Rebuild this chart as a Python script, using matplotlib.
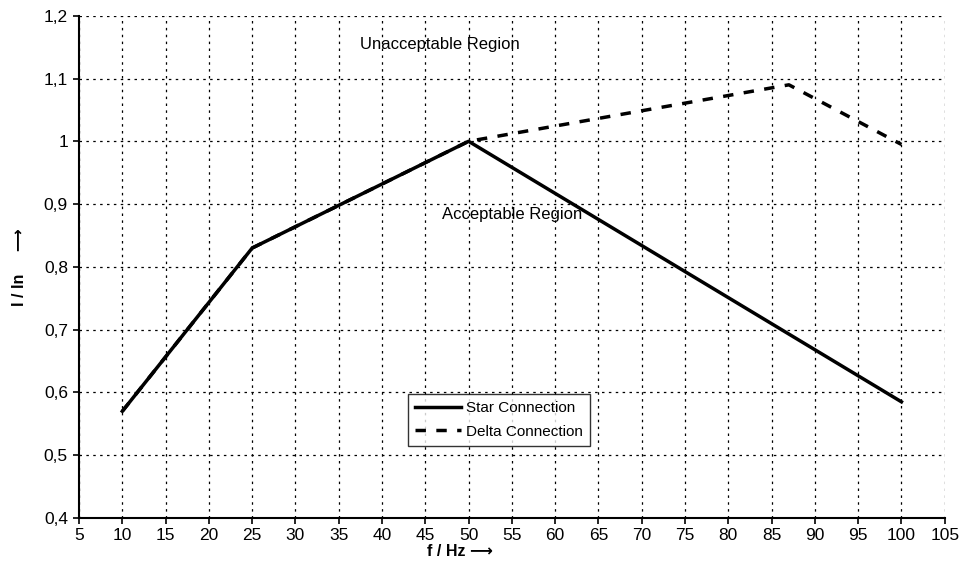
import matplotlib
matplotlib.use("Agg")
import matplotlib.pyplot as plt
from matplotlib.ticker import FuncFormatter

# data
star_f = [10, 25, 50, 100]
star_i = [0.57, 0.83, 1.0, 0.585]
delta_f = [10, 25, 50, 87, 100]
delta_i = [0.57, 0.83, 1.0, 1.09, 0.995]

x_ticks = list(range(5, 106, 5))
y_ticks = [0.4, 0.5, 0.6, 0.7, 0.8, 0.9, 1.0, 1.1, 1.2]

plt.rcParams["font.family"] = ["Liberation Sans", "DejaVu Sans"]

fig = plt.figure(figsize=(9.64, 5.63), dpi=100)
ax = fig.add_axes([0.082, 0.080, 0.898, 0.892])

ax.plot(delta_f, delta_i, color="black", lw=2.5, linestyle=(0, (3, 3)), label="Delta Connection", zorder=3)
ax.plot(star_f, star_i, color="black", lw=2.5, label="Star Connection", zorder=4)

ax.set_xlim(5, 105)
ax.set_ylim(0.4, 1.2)
ax.set_xticks(x_ticks)
ax.set_yticks(y_ticks)
ax.yaxis.set_major_formatter(FuncFormatter(lambda v, p: f"{v:g}".replace(".", ",")))
ax.tick_params(labelsize=12.5, width=1.2)
ax.tick_params(axis="y", direction="out", length=4, pad=4)
ax.tick_params(axis="x", direction="out", length=4, pad=3)

ax.grid(True, color="black", linestyle=(0, (2, 3.5)), lw=0.9)
for s in ["top", "right"]:
    ax.spines[s].set_visible(False)
for s in ["left", "bottom"]:
    ax.spines[s].set_linewidth(1.5)

ax.text(46.7, 1.154, "Unacceptable Region", fontsize=12, ha="center", va="center")
ax.text(55, 0.883, "Acceptable Region", fontsize=12, ha="center", va="center")

ax.set_xlabel("f / Hz \u27f6", fontsize=11.5, fontweight="bold")
ax.set_ylabel("I / In     \u27f6", fontsize=11.5, fontweight="bold")
ax.xaxis.set_label_coords(0.44, -0.052)
ax.yaxis.set_label_coords(-0.06, 0.50)

handles, labels = ax.get_legend_handles_labels()
leg = ax.legend(handles[::-1], labels[::-1], loc="center", bbox_to_anchor=(0.485, 0.195),
                fontsize=11, frameon=True, fancybox=False, edgecolor="black",
                handlelength=3, handletextpad=0.3, borderpad=0.5, labelspacing=0.6)
leg.get_frame().set_linewidth(1.0)

plt.savefig("out.png", dpi=100)
plt.close()
